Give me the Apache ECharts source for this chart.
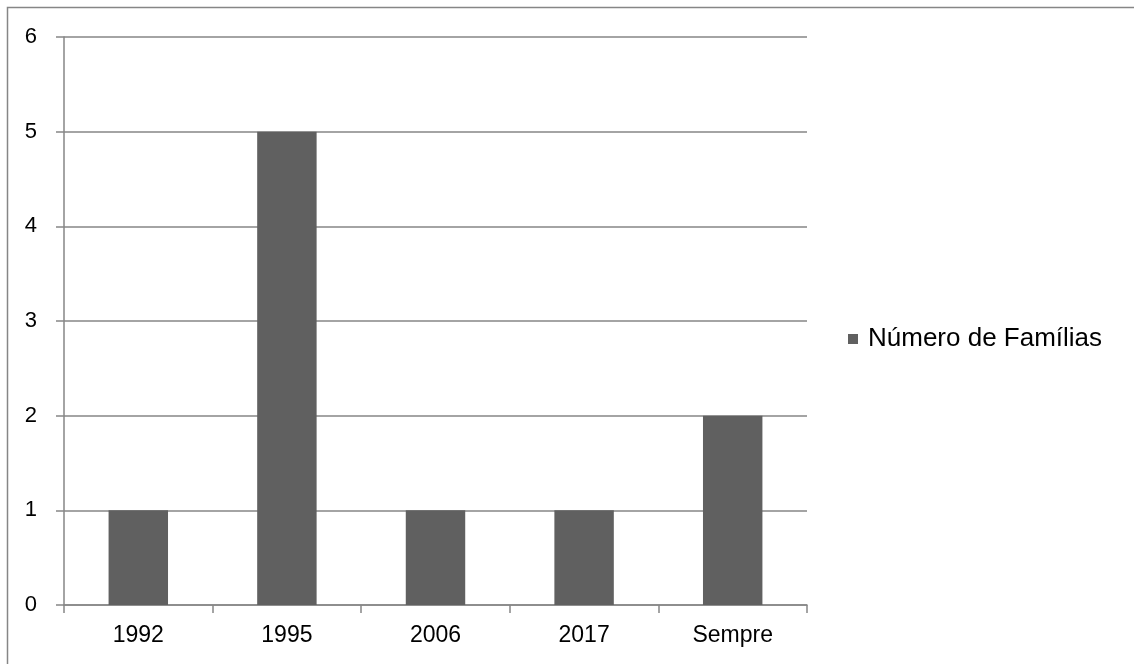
<!DOCTYPE html>
<html>
<head>
<meta charset="utf-8">
<script src="https://cdn.jsdelivr.net/npm/echarts@6/dist/echarts.min.js"></script>
<style>
  html, body { margin: 0; padding: 0; background: #fff; }
  #chart { width: 1134px; height: 664px; }
</style>
</head>
<body>
<div id="chart"></div>
<script>
// Categories and counts
const categories = ['1992', '1995', '2006', '2017', 'Sempre'];
const familias = [1, 5, 1, 1, 2];
const seriesName = 'Número de Famílias';

const axisGray = '#868686';
const barGray = '#606060';

const chart = echarts.init(document.getElementById('chart'), null, { renderer: 'canvas' });

chart.setOption({
  animation: false,
  backgroundColor: '#ffffff',
  graphic: [{
    type: 'rect',
    shape: { x: 7.5, y: 7.5, width: 1200, height: 700 },
    style: { fill: 'none', stroke: axisGray, lineWidth: 1.5 },
    silent: true
  }],
  grid: { left: 64, right: 327, top: 37, bottom: 59, containLabel: false },
  legend: {
    orient: 'vertical',
    left: 848,
    top: 326,
    padding: 0,
    itemWidth: 10,
    itemHeight: 10,
    itemGap: 8,
    icon: 'rect',
    textStyle: { fontFamily: 'Liberation Sans', fontSize: 26, color: '#000', padding: [0, 0, 0, 5] },
    data: [seriesName]
  },
  xAxis: {
    type: 'category',
    data: categories,
    boundaryGap: true,
    axisLine: { show: true, lineStyle: { color: axisGray, width: 1.5 } },
    axisTick: { show: true, length: 8, lineStyle: { color: axisGray, width: 1.5 } },
    axisLabel: { fontFamily: 'Liberation Sans', fontSize: 23, color: '#000', margin: 19 },
    splitLine: { show: false }
  },
  yAxis: {
    type: 'value',
    min: 0,
    max: 6,
    interval: 1,
    axisLine: { show: true, lineStyle: { color: axisGray, width: 1.5 } },
    axisTick: { show: true, length: 8, lineStyle: { color: axisGray, width: 1.5 } },
    axisLabel: { fontFamily: 'Liberation Sans', fontSize: 22, color: '#000', margin: 27 },
    splitLine: { show: true, lineStyle: { color: axisGray, width: 1.5 } }
  },
  series: [{
    name: seriesName,
    type: 'bar',
    data: familias,
    barWidth: '40%',
    itemStyle: { color: barGray }
  }]
});
</script>
</body>
</html>
